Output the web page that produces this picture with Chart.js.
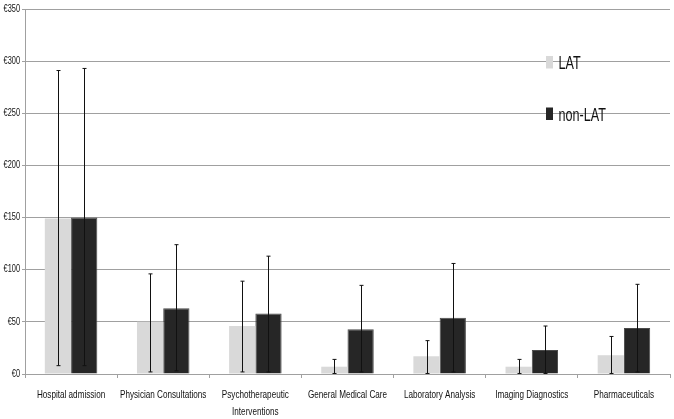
<!DOCTYPE html>
<html>
<head>
<meta charset="utf-8">
<script src="https://cdn.jsdelivr.net/npm/chart.js@4/dist/chart.umd.min.js"></script>
<style>
  body { margin: 0; background: #fff; }
</style>
</head>
<body>
<canvas id="chart" width="674" height="419"></canvas>
<script>
const categories = [
  "Hospital admission",
  "Physician Consultations",
  ["Psychotherapeutic", "Interventions"],
  "General Medical Care",
  "Laboratory Analysis",
  "Imaging Diagnostics",
  "Pharmaceuticals",
];
const seriesNames = ["LAT", "non-LAT"];
const latMeans = [149, 50, 46, 7, 17, 7, 18];
const nonLatMeans = [150, 63, 58, 43, 54, 23, 44];
// error bar ends (low / high)
const latLow = [8, 2, 2, 0.5, 0.5, 0.5, 0.5];
const latHigh = [291, 96, 89, 14, 32, 14, 36];
const nonLatLow = [8, 3, 2, 2, 2, 0.5, 2];
const nonLatHigh = [293, 124, 113, 85, 106, 46, 86];
const yTicks = [0, 50, 100, 150, 200, 250, 300, 350];

const colors = ["#d9d9d9", "#262626"];
const errorRanges = [
  { low: latLow, high: latHigh },
  { low: nonLatLow, high: nonLatHigh },
];

const FONT = '"Liberation Sans", Arial, sans-serif';
const SQUEEZE = 0.74; // the original text is horizontally condensed

// draw text squeezed horizontally around an anchor
function squeezedText(ctx, text, x, y, align, size, sx) {
  ctx.save();
  ctx.font = size + "px " + FONT;
  ctx.textAlign = align;
  ctx.translate(x, y);
  ctx.scale(sx, 1);
  ctx.fillText(text, 0, 0);
  ctx.restore();
}

// whiskers, taken from the arrays above and placed with the chart's scales
const errorBarPlugin = {
  id: "errorBars",
  afterDatasetsDraw(chart) {
    const ctx = chart.ctx;
    const yScale = chart.scales.y;
    ctx.save();
    ctx.strokeStyle = "#111";
    ctx.lineWidth = 1;
    errorRanges.forEach((range, di) => {
      chart.getDatasetMeta(di).data.forEach((bar, i) => {
        const x = Math.round(bar.x) + 0.5;
        const yLow = yScale.getPixelForValue(range.low[i]);
        const yHigh = yScale.getPixelForValue(range.high[i]);
        ctx.beginPath();
        ctx.moveTo(x, yLow);
        ctx.lineTo(x, yHigh);
        ctx.moveTo(x - 2, yLow);
        ctx.lineTo(x + 2, yLow);
        ctx.moveTo(x - 2, yHigh);
        ctx.lineTo(x + 2, yHigh);
        ctx.stroke();
      });
    });
    ctx.restore();
  },
};

// tick labels and legend in the condensed look of the original
const labelPlugin = {
  id: "condensedLabels",
  afterDraw(chart) {
    const ctx = chart.ctx;
    const xScale = chart.scales.x;
    const yScale = chart.scales.y;
    ctx.save();
    ctx.fillStyle = "#111";
    ctx.textBaseline = "alphabetic";
    categories.forEach((label, i) => {
      const x = xScale.getPixelForTick(i);
      const lines = Array.isArray(label) ? label : [label];
      lines.forEach((line, li) => {
        squeezedText(ctx, line, x, xScale.top + 23.5 + li * 17.7, "center", 11, SQUEEZE);
      });
    });
    ctx.textBaseline = "middle";
    yTicks.forEach((v) => {
      squeezedText(ctx, "€" + v, yScale.left + 20, yScale.getPixelForValue(v), "right", 10, SQUEEZE);
    });
    // legend
    ctx.textBaseline = "alphabetic";
    const legendRows = [69, 120.5];
    seriesNames.forEach((name, i) => {
      const base = legendRows[i];
      ctx.fillStyle = colors[i];
      ctx.fillRect(546, base - 13, 7, 12.5);
      ctx.fillStyle = "#111";
      squeezedText(ctx, name, 558.5, base, "left", 18, 0.7);
    });
    ctx.restore();
  },
};

new Chart(document.getElementById("chart"), {
  type: "bar",
  data: {
    labels: categories,
    datasets: [
      {
        label: seriesNames[0],
        data: latMeans,
        backgroundColor: colors[0],
        borderWidth: 0,
      },
      {
        label: seriesNames[1],
        data: nonLatMeans,
        backgroundColor: colors[1],
        borderColor: "#4a4a4a",
        borderWidth: 1,
      },
    ],
  },
  options: {
    responsive: false,
    animation: false,
    layout: { padding: { top: 7, right: 4, left: 0, bottom: 0 } },
    categoryPercentage: 0.57,
    barPercentage: 1.0,
    plugins: {
      legend: { display: false },
      tooltip: { enabled: false },
    },
    scales: {
      x: {
        grid: { drawOnChartArea: false, drawTicks: true, tickLength: 4, offset: true, color: "#a0a0a0" },
        border: { color: "#a0a0a0" },
        ticks: { color: "rgba(0,0,0,0)", font: { size: 10 }, maxRotation: 0, autoSkip: false },
        afterFit(scale) {
          scale.height = 45;
        },
      },
      y: {
        min: 0,
        max: yTicks[yTicks.length - 1],
        ticks: { stepSize: 50, color: "rgba(0,0,0,0)", font: { size: 10 } },
        grid: { color: "#a0a0a0", tickLength: 3 },
        border: { color: "#a0a0a0" },
        afterFit(scale) {
          scale.width = 25;
        },
      },
    },
  },
  plugins: [errorBarPlugin, labelPlugin],
});
</script>
</body>
</html>
